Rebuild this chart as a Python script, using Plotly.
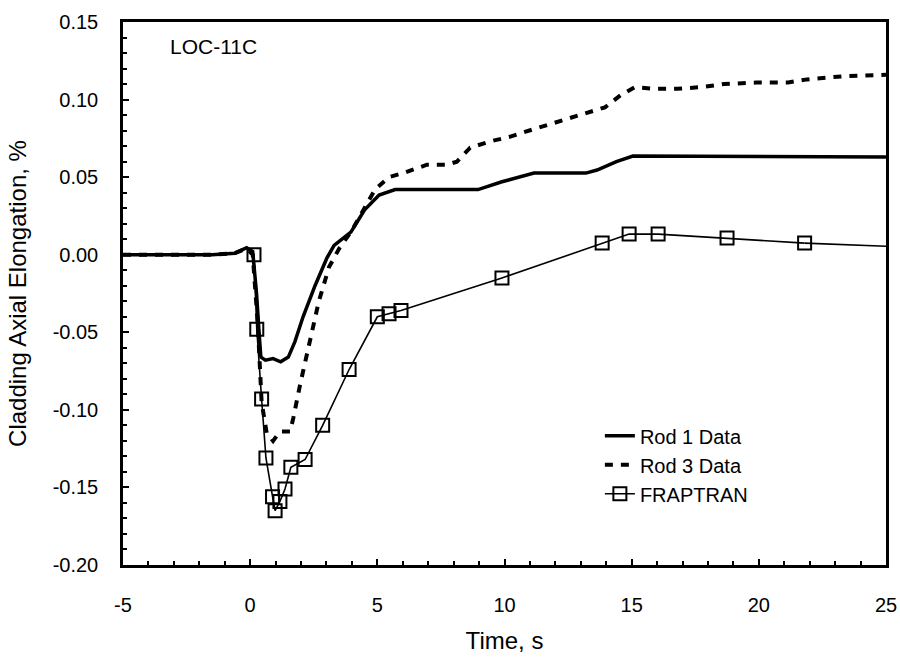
import plotly.graph_objects as go

# ---- data ----
rod1_t = [-5, -1.5, -0.6, -0.14, 0.1, 0.25, 0.35, 0.42, 0.6, 0.9, 1.2, 1.5, 1.76, 2.08, 2.55, 3.02, 3.3,
          3.96, 4.5, 5.07, 5.7, 8.96, 9.9, 11.16, 13.2, 13.64, 14.4, 15.05, 25]
rod1_y = [0, 0, 0.001, 0.0045, 0.002, -0.025, -0.05, -0.066, -0.068, -0.067, -0.069, -0.066, -0.056,
          -0.040, -0.020, -0.002, 0.006, 0.0146, 0.029, 0.0385, 0.042, 0.042, 0.047, 0.0526, 0.0526,
          0.0546, 0.060, 0.0636, 0.063]

rod3_t = [-5, -1.5, -0.6, -0.14, 0.1, 0.3, 0.45, 0.65, 0.9, 1.17, 1.57, 1.7, 1.96, 2.35, 2.7, 3.1, 3.5,
          3.96, 4.44, 4.91, 5.46, 6.09, 6.95, 7.74, 8.13, 8.65, 9.43, 10.2, 11.16, 12.18, 13.1, 13.95,
          14.58, 15.13, 15.84, 16.8, 17.73, 18.63, 19.9, 21.15, 21.9, 23.3, 25]
rod3_y = [0, 0, 0.001, 0.004, 0.0, -0.045, -0.095, -0.115, -0.120, -0.114, -0.114, -0.105, -0.084,
          -0.057, -0.030, -0.008, 0.004, 0.0146, 0.029, 0.042, 0.050, 0.053, 0.058, 0.058, 0.060,
          0.069, 0.073, 0.076, 0.081, 0.086, 0.091, 0.095, 0.103, 0.108, 0.107, 0.107, 0.108, 0.110,
          0.111, 0.111, 0.113, 0.115, 0.116]

frap_t = [0.15, 0.26, 0.45, 0.62, 0.88, 0.98, 1.17, 1.37, 1.6, 2.16, 2.85, 3.89, 5.0, 5.46, 5.93,
          9.9, 13.84, 14.9, 16.04, 18.75, 21.8]
frap_y = [0.0, -0.048, -0.093, -0.131, -0.156, -0.165, -0.159, -0.151, -0.137, -0.132, -0.110,
          -0.074, -0.040, -0.038, -0.036, -0.015, 0.0075, 0.0133, 0.0133, 0.0107, 0.0075]
frap_tail_t = [21.8, 25]
frap_tail_y = [0.0075, 0.0055]

x_ticks = [-5, 0, 5, 10, 15, 20, 25]
x_ticklabels = ["-5", "0", "5", "10", "15", "20", "25"]
y_ticks = [-0.20, -0.15, -0.10, -0.05, 0.00, 0.05, 0.10, 0.15]
y_ticklabels = ["-0.20", "-0.15", "-0.10", "-0.05", "0.00", "0.05", "0.10", "0.15"]

FONT = "Liberation Sans, Arial, sans-serif"

fig = go.Figure()
fig.add_trace(go.Scatter(x=rod1_t, y=rod1_y, mode="lines", name="Rod 1 Data",
                         line=dict(color="black", width=3.5)))
fig.add_trace(go.Scatter(x=rod3_t, y=rod3_y, mode="lines", name="Rod 3 Data",
                         line=dict(color="black", width=4, dash="8px,8px")))
fig.add_trace(go.Scatter(x=frap_tail_t, y=frap_tail_y, mode="lines", showlegend=False,
                         line=dict(color="black", width=1.6)))
fig.add_trace(go.Scatter(x=frap_t, y=frap_y, mode="lines+markers", name="FRAPTRAN",
                         line=dict(color="black", width=1.6),
                         marker=dict(symbol="square-open", size=13, color="black",
                                     line=dict(width=2, color="black"))))

fig.add_annotation(x=0.059, y=0.954, xref="paper", yref="paper", text="LOC-11C",
                   showarrow=False, xanchor="left", yanchor="middle",
                   font=dict(family=FONT, size=21, color="black"))

fig.update_xaxes(range=[-5, 25], tickmode="array", tickvals=x_ticks, ticktext=x_ticklabels,
                 ticks="inside", ticklen=6, tickwidth=1.5, tickcolor="black",
                 minor=dict(tickmode="linear", tick0=0, dtick=1, ticks="inside", ticklen=4,
                            tickwidth=1.5, tickcolor="black", showgrid=False),
                 showline=True, linecolor="black", linewidth=2.5, mirror=True,
                 showgrid=False, zeroline=False, ticklabelstandoff=20, automargin=False,
                 tickfont=dict(family=FONT, size=20, color="black"),
                 title=dict(text="Time, s", font=dict(family=FONT, size=24, color="black"),
                            standoff=18))
fig.update_yaxes(range=[-0.2, 0.15], tickmode="array", tickvals=y_ticks, ticktext=y_ticklabels,
                 ticks="inside", ticklen=6, tickwidth=1.5, tickcolor="black",
                 minor=dict(tickmode="linear", tick0=0, dtick=0.01, ticks="inside", ticklen=4,
                            tickwidth=1.5, tickcolor="black", showgrid=False),
                 showline=True, linecolor="black", linewidth=2.5, mirror=True,
                 showgrid=False, zeroline=False, ticklabelstandoff=18, automargin=False,
                 tickfont=dict(family=FONT, size=20, color="black"),
                 title=dict(text="Cladding Axial Elongation, %",
                            font=dict(family=FONT, size=24, color="black"), standoff=20))

fig.update_layout(width=900, height=666, paper_bgcolor="white", plot_bgcolor="white",
                  margin=dict(l=123, r=14, t=22, b=101),
                  legend=dict(x=0.625, y=0.274, xanchor="left", yanchor="top",
                              bgcolor="rgba(0,0,0,0)", borderwidth=0,
                              font=dict(family=FONT, size=20, color="black")))

fig.write_html("out.html", config={"displayModeBar": False},
               post_script="document.body.style.margin='0';document.body.style.overflow='hidden';")
